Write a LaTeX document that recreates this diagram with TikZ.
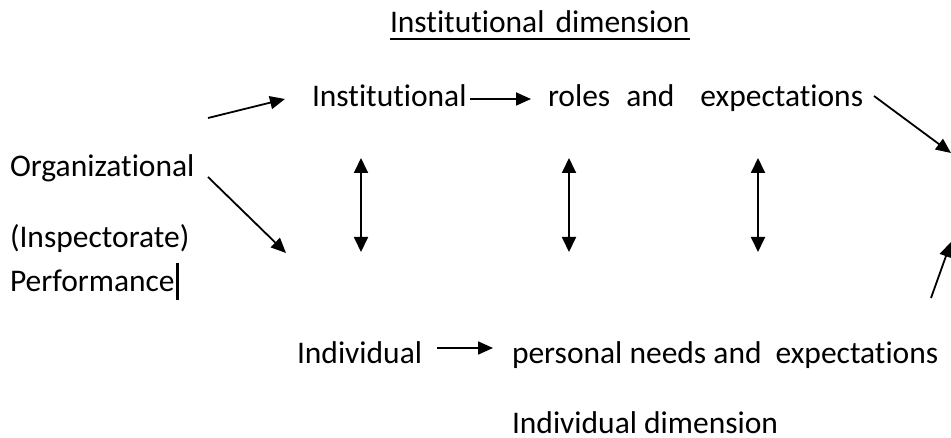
\documentclass[tikz,border=0pt]{standalone}
\usepackage{fontspec}
\setmainfont{Carlito}[Ligatures={NoCommon}]
\usetikzlibrary{arrows.meta}
\begin{document}
\begin{tikzpicture}[x=1pt,y=-1pt,
  txt/.style={anchor=base west,inner sep=0pt,outer sep=0pt,font=\fontsize{31.5}{37}\selectfont},
  arr/.style={line width=1.8pt,-{Triangle[length=15pt,width=13pt]}},
  darr/.style={line width=1.8pt,{Triangle[length=15pt,width=14pt]}-{Triangle[length=15pt,width=14pt]}}]
\useasboundingbox (0,0) rectangle (951,438);
% texts
\node[txt] (title) at (390,33) {Institutional\hspace{4pt} dimension};
\draw[line width=1.3pt] ([yshift=-6pt]title.base west) coordinate (ulA) -- ([yshift=-6pt]title.base east) coordinate (ulB);
\node[txt] (inst) at (312,107) {Institutional};
\node[txt] (roles) at (548,107) {roles\hspace{16pt}and\hspace{26pt}expectations};
\node[txt] (org) at (10,177) {Organizational};
\node[txt] (insp) at (10,248) {(Inspectorate)};
\node[txt] (perf) at (10,292) {Performance};
\node[txt] (indiv) at (297,363) {Individual};
\node[txt] (pers) at (512,363) {personal needs and\hspace{14pt}expectations};
\node[txt] (indivdim) at (512,433) {Individual dimension};
% cursor
\coordinate (curA) at ([xshift=3pt]perf.base east |- 0,263);
\coordinate (curB) at ([xshift=3pt]perf.base east |- 0,300);
\draw[line width=2.5pt] (curA) -- (curB);
% arrow endpoints
\coordinate (o1s) at (208,118); \coordinate (o1e) at (285,99);
\coordinate (o2s) at (208,177); \coordinate (o2e) at (286,253);
\coordinate (i1s) at (470,99);  \coordinate (i1e) at (531,99);
\coordinate (r1s) at (874,96);  \coordinate (r1e) at (951,153);
\coordinate (p1s) at (931,298); \coordinate (p1e) at (951,242);
\coordinate (n1s) at (437,348); \coordinate (n1e) at (493,348);
\coordinate (v1a) at (361,158); \coordinate (v1b) at (361,252);
\coordinate (v2a) at (569,158); \coordinate (v2b) at (569,252);
\coordinate (v3a) at (758,158); \coordinate (v3b) at (758,252);
% arrows
\draw[arr] (o1s) -- (o1e);
\draw[arr] (o2s) -- (o2e);
\draw[arr] (i1s) -- (i1e);
\draw[arr] (r1s) -- (r1e);
\draw[arr] (p1s) -- (p1e);
\draw[arr] (n1s) -- (n1e);
\draw[darr] (v1a) -- (v1b);
\draw[darr] (v2a) -- (v2b);
\draw[darr] (v3a) -- (v3b);
\end{tikzpicture}
\end{document}
